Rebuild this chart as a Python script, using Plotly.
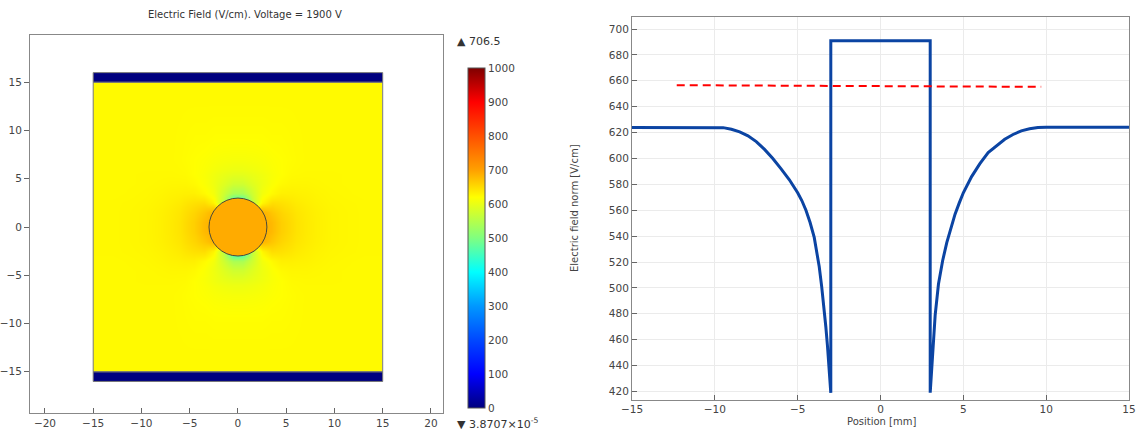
import plotly.graph_objects as go
from plotly.colors import sample_colorscale

# ---------------- data ----------------
title_text = "Electric Field (V/cm). Voltage = 1900 V"
voltage_max_label = "706.5"
voltage_min_label = "3.8707×10<sup>-5</sup>"

# right panel: field norm along the line through the inclusion
pos_mm = [-15, -10, -9.5, -9, -8.5, -8, -7.5, -7, -6.5, -6, -5.5, -5, -4.75, -4.5, -4.25,
          -4, -3.85, -3.7, -3.55, -3.4, -3.3, -3.2, -3.1, -3.0, -3.0,
          3.0, 3.0, 3.1, 3.2, 3.3, 3.5, 3.75, 4.0, 4.25, 4.5, 4.75, 5.0, 5.5, 6.0, 6.5,
          7.0, 7.5, 8.0, 8.5, 9.0, 9.5, 10, 15]
field_norm = [624, 624, 623.8, 622.6, 620.5, 617.5, 613, 607, 600, 592, 583.5, 573.5, 567.5, 560, 550.5,
              539, 529, 516.5, 501, 485, 470, 455, 438, 419, 691,
              691, 419, 441, 462, 479, 503, 521, 535, 547, 557, 565.5, 573.5, 586, 596, 604.5,
              610, 614.8, 618.5, 621.3, 623, 623.9, 624.2, 624.2]
ref_pos = [-12.3, 9.7]
ref_field = [656.6, 655.3]

# left panel: field map (quadrant x>=0, y>=0; brick edges)
quad_edges = [0, 1, 2, 3, 4, 5, 6, 8, 11, 15]
# rows: y centres 0.5,1.5,2.5,3.5,4.5,5.5,7,9.5,13 ; cols: x centres same
quad_field = [
    [690, 690, 690, 678, 660, 649, 637, 628, 625],
    [690, 690, 685, 668, 655, 646, 636, 628, 625],
    [420, 560, 628, 648, 645, 640, 633, 627, 625],
    [540, 575, 610, 624, 632, 632, 630, 626, 624],
    [575, 590, 605, 617, 624, 627, 627, 625, 624],
    [595, 600, 607, 615, 620, 624, 625, 625, 624],
    [612, 613, 615, 618, 620, 622, 624, 624, 624],
    [621, 621, 621, 622, 622, 623, 624, 624, 624],
    [624, 624, 624, 624, 624, 624, 624, 624, 624],
]
inclusion_radius = 3
inclusion_field = 691
electrode_x = [-15, 15]
electrode_y_top = [15, 16]
electrode_y_bottom = [-16, -15]
electrode_field = 0
cbar_ticks = [0, 100, 200, 300, 400, 500, 600, 700, 800, 900, 1000]

# ---------------- build ----------------
full_edges = [-e for e in reversed(quad_edges[1:])] + quad_edges
full_rows = []
for row in list(reversed(quad_field)) + quad_field:
    full_rows.append(list(reversed(row)) + row)

cscale = [[0.0, '#00007F'], [0.1, '#0000FF'], [0.2, '#0048FF'], [0.3, '#0098FF'],
          [0.4, '#00FFFF'], [0.5, '#80FF80'], [0.62, '#FFFF00'], [0.7, '#FFA000'],
          [0.8, '#FF5000'], [0.9, '#FF0000'], [1.0, '#7F0000']]
zmin, zmax = 0, 1000


def col(v):
    return sample_colorscale(cscale, [(v - zmin) / (zmax - zmin)])[0]


W, H = 1137, 432


def px(x):
    return x / W


def py(y):
    return 1 - y / H


FONT = "DejaVu Sans"
TXT = "#444444"

fig = go.Figure()

fig.add_trace(go.Heatmap(
    x=full_edges, y=full_edges, z=full_rows, zsmooth='best',
    colorscale=cscale, zmin=zmin, zmax=zmax, xaxis='x', yaxis='y',
    hoverinfo='skip',
    colorbar=dict(
        x=px(468), xanchor='left', xpad=0, y=py(238), yanchor='middle',
        lenmode='pixels', len=360, thickness=17, thicknessmode='pixels',
        outlinewidth=1, outlinecolor='#555555',
        tickvals=cbar_ticks, ticktext=[str(t) for t in cbar_ticks],
        ticks='', ticklen=0, tickfont=dict(family=FONT, size=10.5, color=TXT),
    ),
))

fig.add_trace(go.Scatter(x=pos_mm, y=field_norm, mode='lines',
                         line=dict(color='#0B44A3', width=3),
                         xaxis='x2', yaxis='y2', showlegend=False))
fig.add_trace(go.Scatter(x=ref_pos, y=ref_field, mode='lines',
                         line=dict(color='#FF0000', width=2, dash='8px,5px'),
                         xaxis='x2', yaxis='y2', showlegend=False))

shapes = [
    dict(type='rect', xref='x', yref='y', x0=electrode_x[0], x1=electrode_x[1],
         y0=electrode_y_top[0], y1=electrode_y_top[1],
         fillcolor=col(electrode_field), line=dict(color='#777777', width=1), layer='above'),
    dict(type='rect', xref='x', yref='y', x0=electrode_x[0], x1=electrode_x[1],
         y0=electrode_y_bottom[0], y1=electrode_y_bottom[1],
         fillcolor=col(electrode_field), line=dict(color='#777777', width=1), layer='above'),
    dict(type='rect', xref='x', yref='y', x0=electrode_x[0], x1=electrode_x[1],
         y0=electrode_y_bottom[1], y1=electrode_y_top[0],
         fillcolor='rgba(0,0,0,0)', line=dict(color='#777777', width=1), layer='above'),
    dict(type='circle', xref='x', yref='y', x0=-inclusion_radius, x1=inclusion_radius,
         y0=-inclusion_radius, y1=inclusion_radius,
         fillcolor=col(inclusion_field), line=dict(color='#4a4a3a', width=1), layer='above'),
]

annotations = [
    dict(text=title_text, x=px(245), y=py(15), xref='paper', yref='paper',
         showarrow=False, xanchor='center', yanchor='middle',
         font=dict(family=FONT, size=10, color='#333333')),
    dict(text='▲ ' + voltage_max_label, x=px(455), y=py(42), xref='paper', yref='paper',
         showarrow=False, xanchor='left', yanchor='middle',
         font=dict(family=FONT, size=11, color='#333333')),
    dict(text='▼ ' + voltage_min_label, x=px(455), y=py(423), xref='paper', yref='paper',
         showarrow=False, xanchor='left', yanchor='middle',
         font=dict(family=FONT, size=11, color='#333333')),
    dict(text='Electric field norm [V/cm]', x=px(575), y=py(208), xref='paper', yref='paper',
         showarrow=False, textangle=-90, xanchor='center', yanchor='middle',
         font=dict(family=FONT, size=10, color=TXT)),
    dict(text='Position [mm]', x=px(881), y=py(421), xref='paper', yref='paper',
         showarrow=False, xanchor='center', yanchor='middle',
         font=dict(family=FONT, size=10, color=TXT)),
]

axis_common = dict(showline=True, linecolor='#888888', linewidth=1, mirror=True,
                   zeroline=False, automargin=False,
                   tickfont=dict(family=FONT, size=10.5, color=TXT),
                   tickcolor='#666666', ticklen=5)

fig.update_layout(
    width=W, height=H, margin=dict(l=0, r=0, t=0, b=0, autoexpand=False),
    paper_bgcolor='white', plot_bgcolor='white', showlegend=False,
    xaxis=dict(domain=[px(30), px(443)], range=[-21.55, 21.25], tickmode='array',
               tickvals=[-20, -15, -10, -5, 0, 5, 10, 15, 20], ticks='inside',
               showgrid=False, anchor='y', **axis_common),
    yaxis=dict(domain=[py(413), py(35)], range=[-19.27, 19.9], tickmode='array',
               tickvals=[-15, -10, -5, 0, 5, 10, 15], ticks='outside',
               showgrid=False, anchor='x', **axis_common),
    xaxis2=dict(domain=[px(632), px(1129)], range=[-15, 15], dtick=5, tick0=-15,
                ticks='inside', showgrid=True, gridcolor='#EBEBEB', anchor='y2',
                **axis_common),
    yaxis2=dict(domain=[py(399.5), py(16.7)], range=[413.8, 709.5], dtick=20, tick0=420,
                ticks='inside', showgrid=True, gridcolor='#EBEBEB', anchor='x2',
                **axis_common),
    shapes=shapes, annotations=annotations,
)

fig.write_html("out.html")
